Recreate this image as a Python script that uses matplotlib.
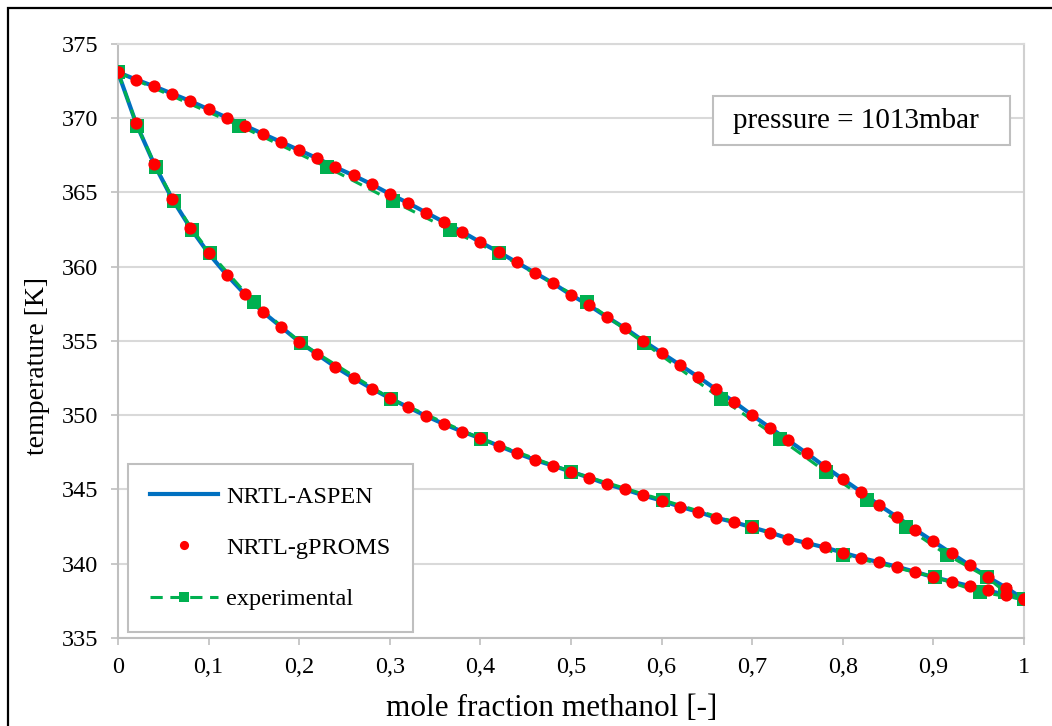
import matplotlib
matplotlib.use("Agg")
import matplotlib.pyplot as plt
from matplotlib.patches import Rectangle

plt.rcParams['font.family'] = ['Liberation Serif', 'DejaVu Serif']

# mole fraction grid of the model curves
x_grid = [0.00, 0.02, 0.04, 0.06, 0.08, 0.10, 0.12, 0.14, 0.16, 0.18,
          0.20, 0.22, 0.24, 0.26, 0.28, 0.30, 0.32, 0.34, 0.36, 0.38,
          0.40, 0.42, 0.44, 0.46, 0.48, 0.50, 0.52, 0.54, 0.56, 0.58,
          0.60, 0.62, 0.64, 0.66, 0.68, 0.70, 0.72, 0.74, 0.76, 0.78,
          0.80, 0.82, 0.84, 0.86, 0.88, 0.90, 0.92, 0.94, 0.96, 0.98, 1.00]

# NRTL-gPROMS: bubble (liquid) and dew (vapour) temperatures [K]
gproms_bubble = [373.10, 369.65, 366.90, 364.55, 362.60, 360.90, 359.45, 358.15, 356.95, 355.95,
                 354.95, 354.10, 353.25, 352.50, 351.80, 351.15, 350.55, 349.95, 349.40, 348.90,
                 348.45, 347.95, 347.45, 347.00, 346.60, 346.20, 345.80, 345.35, 345.00, 344.60,
                 344.25, 343.85, 343.50, 343.10, 342.80, 342.45, 342.10, 341.70, 341.40, 341.10,
                 340.75, 340.40, 340.10, 339.80, 339.45, 339.10, 338.80, 338.50, 338.20, 337.90, 337.60]
gproms_dew = [373.10, 372.60, 372.15, 371.65, 371.15, 370.60, 370.05, 369.50, 368.95, 368.40,
              367.85, 367.30, 366.70, 366.15, 365.55, 364.90, 364.30, 363.65, 363.00, 362.35,
              361.65, 361.00, 360.30, 359.60, 358.90, 358.10, 357.40, 356.60, 355.85, 355.00,
              354.20, 353.40, 352.60, 351.75, 350.90, 350.00, 349.15, 348.30, 347.45, 346.55,
              345.70, 344.85, 343.95, 343.15, 342.30, 341.50, 340.70, 339.90, 339.10, 338.40, 337.60]

# NRTL-ASPEN lies on top of the gPROMS points in the picture
aspen_bubble = gproms_bubble
aspen_dew = gproms_dew

# experimental data: T, liquid x, vapour y
exp_T = [373.10, 369.50, 366.70, 364.40, 362.50, 360.90, 357.60, 354.85, 351.10,
         348.40, 346.20, 344.30, 342.45, 340.60, 339.10, 338.10, 337.60]
exp_x = [0.000, 0.021, 0.042, 0.062, 0.082, 0.102, 0.150, 0.202, 0.301,
         0.401, 0.500, 0.601, 0.700, 0.800, 0.902, 0.951, 1.000]
exp_y = [0.000, 0.134, 0.231, 0.304, 0.366, 0.420, 0.518, 0.581, 0.666,
         0.731, 0.781, 0.827, 0.870, 0.915, 0.959, 0.979, 1.000]

x_ticks = [0, 0.1, 0.2, 0.3, 0.4, 0.5, 0.6, 0.7, 0.8, 0.9, 1]
x_tick_labels = ['0', '0,1', '0,2', '0,3', '0,4', '0,5', '0,6', '0,7', '0,8', '0,9', '1']
y_ticks = [335, 340, 345, 350, 355, 360, 365, 370, 375]

W, H = 1052, 726
fig = plt.figure(figsize=(W / 100, H / 100), dpi=100)
ax = fig.add_axes([118 / W, 1 - 638 / H, 906 / W, 594 / H])

loop_x = x_grid + x_grid[::-1]
exp_loop_x = exp_x + exp_y[::-1]
exp_loop_T = exp_T + exp_T[::-1]

ax.plot(loop_x, aspen_bubble + aspen_dew[::-1], '-', color='#0070C0', lw=3.0,
        zorder=3, label='NRTL-ASPEN')
ax.plot(exp_loop_x, exp_loop_T, '--', color='#00B050', lw=2.2, dashes=(4, 2.5),
        marker='s', markersize=9.5, markeredgewidth=0, zorder=4, label='experimental')
ax.plot(loop_x, gproms_bubble + gproms_dew[::-1], 'o', color='#FF0000',
        markersize=8.8, markeredgewidth=0, zorder=5, label='NRTL-gPROMS')

ax.set_xlim(0, 1)
ax.set_ylim(335, 375)
ax.set_xticks(x_ticks)
ax.set_xticklabels(x_tick_labels)
ax.set_yticks(y_ticks)
ax.tick_params(axis='both', labelsize=17.5, color='#bfbfbf', length=5, width=1.2, pad=9)
ax.yaxis.grid(True, color='#d9d9d9', lw=1.5)
ax.set_axisbelow(True)
for side in ['left', 'bottom']:
    ax.spines[side].set_color('#bfbfbf')
    ax.spines[side].set_linewidth(1.5)
ax.spines['right'].set_color('#d0d0d0')
ax.spines['right'].set_linewidth(1.5)
ax.spines['top'].set_color('#d9d9d9')
ax.spines['top'].set_linewidth(1.5)

ax.set_xlabel('mole fraction methanol [-]', fontsize=22.5)
ax.set_ylabel('temperature [K]', fontsize=20)
ax.xaxis.set_label_coords((552 - 118) / 906, (638 - 709) / 594)
ax.xaxis.label.set_va('center')
ax.yaxis.set_label_coords((38 - 118) / 906, (638 - 366) / 594)
ax.yaxis.label.set_va('center')

handles, labels = ax.get_legend_handles_labels()
order = [0, 2, 1]
leg = ax.legend([handles[i] for i in order], [labels[i] for i in order],
                loc='lower left', bbox_to_anchor=(128 / W, 1 - 632 / H),
                bbox_transform=fig.transFigure, fontsize=17.5, frameon=True,
                fancybox=False, framealpha=1, edgecolor='#bfbfbf',
                borderpad=0.9, labelspacing=1.2, handlelength=2.8,
                handletextpad=0.35, borderaxespad=0, markerscale=0.75)
leg.get_frame().set_linewidth(1.5)

# pressure annotation box
fig.add_artist(Rectangle((713 / W, 1 - 145 / H), 297 / W, 49 / H, transform=fig.transFigure,
                         facecolor='white', edgecolor='#bfbfbf', lw=1.5, zorder=6))
fig.text(856 / W, 1 - 121 / H, 'pressure = 1013mbar', fontsize=21,
         ha='center', va='center', zorder=7)

# outer chart border (cut off at right and bottom)
fig.add_artist(Rectangle((8 / W, -0.1), 1.2, 1.1 - 8 / H, transform=fig.transFigure,
                         fill=False, edgecolor='black', lw=1.6))

fig.savefig('out.png', dpi=100)
